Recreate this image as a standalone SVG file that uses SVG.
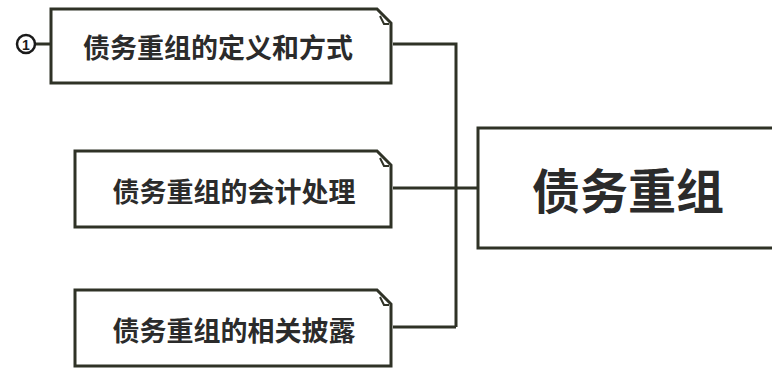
<svg xmlns="http://www.w3.org/2000/svg" width="772" height="371" viewBox="0 0 772 371">
<style>
.box{fill:#fff;stroke:#2f3226;stroke-width:3;stroke-linejoin:miter}
.fold{fill:none;stroke:#2f3226;stroke-width:2}
.conn{fill:none;stroke:#2f3226;stroke-width:3}
.lbl{font-family:"Noto Sans CJK SC","Noto Sans CJK JP",sans-serif;font-weight:bold;fill:#2b2b2b;text-anchor:middle;dominant-baseline:central}
.sub{font-size:27px}
.main{font-size:48px}
</style>
<rect width="772" height="371" fill="#fff"/>
<g id="connectors">
<path class="conn" d="M393,44 H456 V327"/>
<path class="conn" d="M393,188 H477"/>
<path class="conn" d="M393,327 H456"/>
<path class="conn" d="M35,44 H51"/>
</g>
<g id="marker1">
<circle cx="26" cy="44" r="9" fill="#fff" stroke="#1a1a1a" stroke-width="2.5"/>
<text x="26" y="44.5" font-family="'Liberation Sans',sans-serif" font-weight="bold" font-size="14" text-anchor="middle" dominant-baseline="central" fill="#1a1a1a">1</text>
</g>
<g id="node1">
<path class="box" d="M51,9 H377 L391,23 V83 H51 Z"/>
<path class="fold" d="M380,16 L384,24 H389"/>
<text class="lbl sub" x="218" y="46">债务重组的定义和方式</text>
</g>
<g id="node2">
<path class="box" d="M75,151 H377 L391,165 V227 H75 Z"/>
<path class="fold" d="M380,158 L384,166 H389"/>
<text class="lbl sub" x="234" y="190">债务重组的会计处理</text>
</g>
<g id="node3">
<path class="box" d="M75,290 H377 L391,304 V366 H75 Z"/>
<path class="fold" d="M380,297 L384,305 H389"/>
<text class="lbl sub" x="234" y="329">债务重组的相关披露</text>
</g>
<g id="root">
<path class="box" d="M478,128 H775 V248 H478 Z"/>
<text class="lbl main" x="628" y="188">债务重组</text>
</g>
</svg>
